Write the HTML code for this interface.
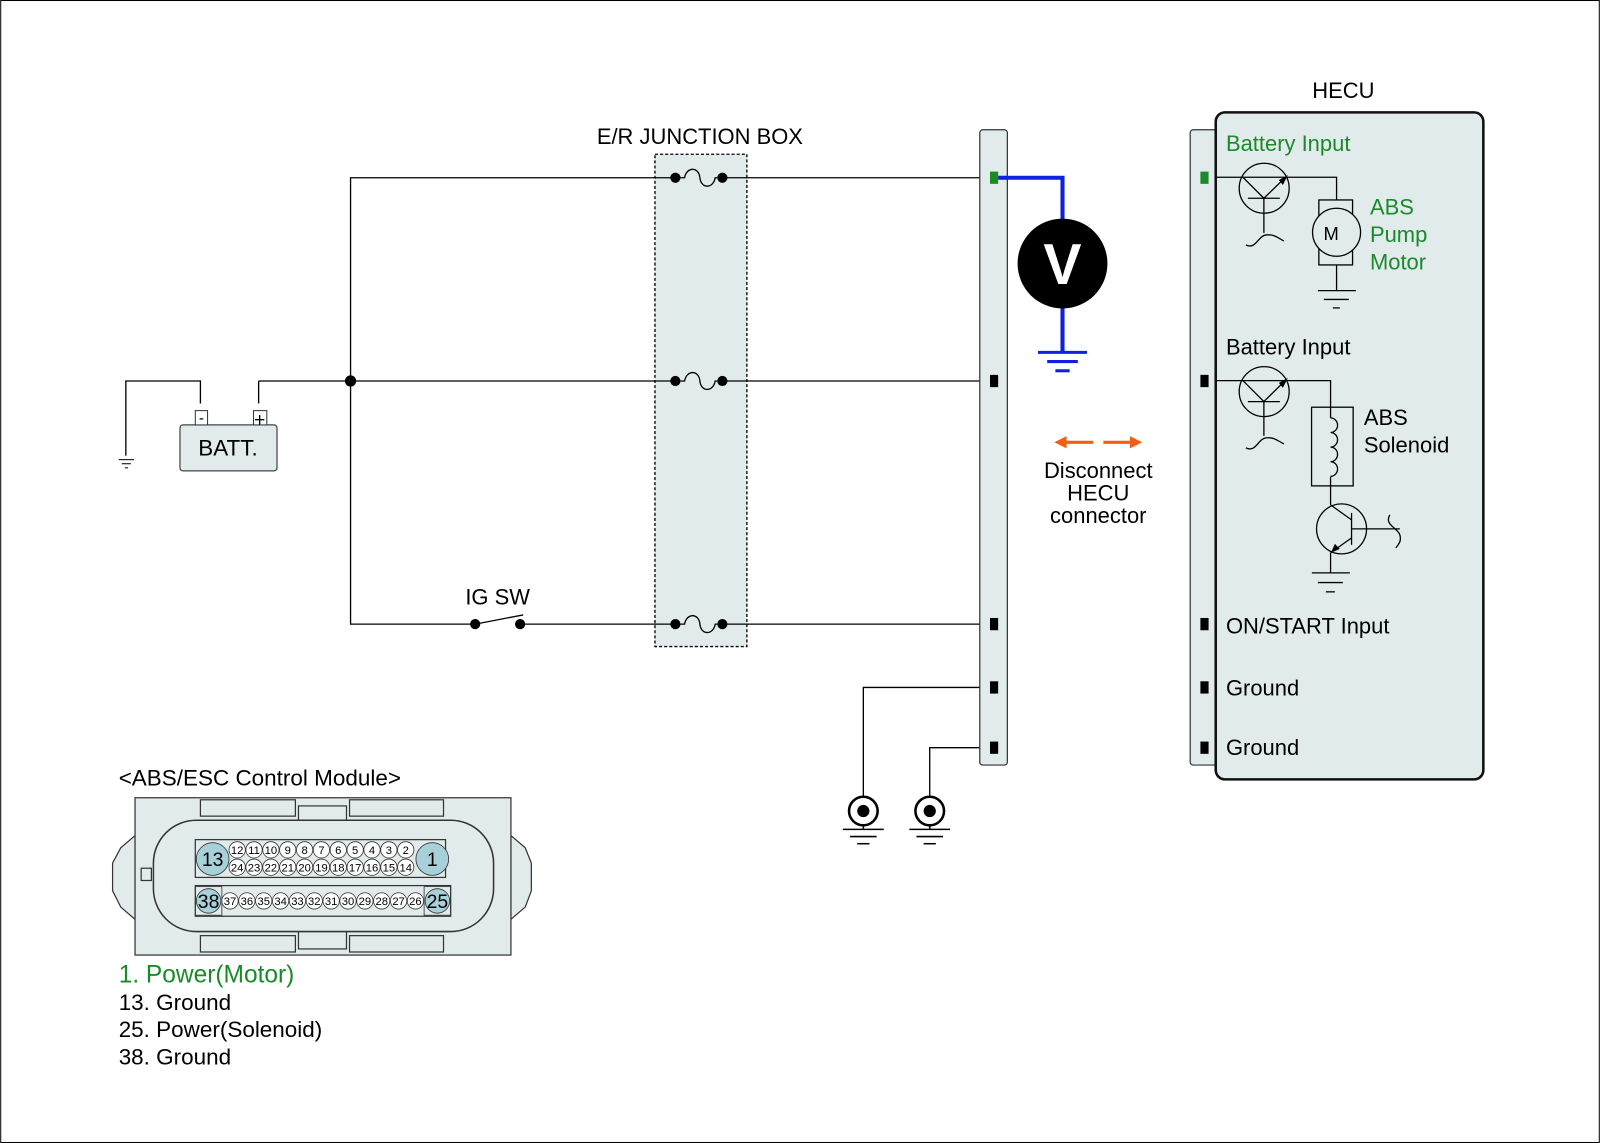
<!DOCTYPE html>
<html><head><meta charset="utf-8"><style>
html,body{margin:0;padding:0;background:#fff}
svg{display:block}
text{font-family:"Liberation Sans",Arial,sans-serif}
</style></head><body>
<svg width="1600" height="1143" viewBox="0 0 1566 1119" xmlns="http://www.w3.org/2000/svg">
<rect x="0.5" y="0.5" width="1565" height="1118" fill="#fff" stroke="#000" stroke-width="1"/>

<!-- junction box -->
<rect x="641" y="151" width="90" height="482" fill="#e2ebeb" stroke="#000" stroke-width="1.3" stroke-dasharray="3,2"/>
<text x="685" y="141" font-size="21.5" text-anchor="middle">E/R JUNCTION BOX</text>

<!-- wires -->
<g stroke="#000" stroke-width="1.3" fill="none">
<polyline points="661,174 343,174 343,611 465,611"/>
<line x1="707" y1="174" x2="972" y2="174"/>
<line x1="253" y1="373" x2="661" y2="373"/>
<line x1="707" y1="373" x2="972" y2="373"/>
<line x1="509" y1="611" x2="661" y2="611"/>
<line x1="707" y1="611" x2="972" y2="611"/>
<polyline points="196,395 196,373 123,373 123,446"/>
<polyline points="253,395 253,373"/>
<polyline points="972,673 845,673 845,780"/>
<polyline points="972,732 910,732 910,780"/>
</g>
<g stroke="#000" stroke-width="1">
<line x1="116" y1="450" x2="131" y2="450"/><line x1="119" y1="454" x2="128" y2="454"/><line x1="122" y1="458" x2="125" y2="458"/>
</g>
<circle cx="343" cy="373" r="5.5" fill="#000"/>

<!-- battery -->
<rect x="176" y="416" width="95" height="45" rx="3" fill="#e2ebeb" stroke="#444" stroke-width="1.2"/>
<rect x="191" y="402" width="12" height="14" fill="#fff" stroke="#333"/>
<rect x="248" y="402" width="13" height="14" fill="#fff" stroke="#333"/>
<text x="197" y="414" font-size="15" text-anchor="middle">-</text>
<text x="254" y="417" font-size="19" text-anchor="middle">+</text>
<text x="223" y="446" font-size="22" text-anchor="middle">BATT.</text>

<!-- IG SW -->
<circle cx="465" cy="611" r="5" fill="#000"/><circle cx="509" cy="611" r="5" fill="#000"/>
<line x1="465" y1="611" x2="512" y2="602" stroke="#000" stroke-width="1.3"/>
<text x="487" y="592" font-size="21.5" text-anchor="middle">IG SW</text>

<g fill="#000"><circle cx="661" cy="174" r="5"/><circle cx="707" cy="174" r="5"/><circle cx="661" cy="373" r="5"/><circle cx="707" cy="373" r="5"/><circle cx="661" cy="611" r="5"/><circle cx="707" cy="611" r="5"/></g>
<g stroke="#000" stroke-width="1.3" fill="none">
<path d="M666,174 L670,174 C672,163 684,163 685,174 C686,185 698,185 700,174 L702,174"/>
<path d="M666,373 L670,373 C672,362 684,362 685,373 C686,384 698,384 700,373 L702,373"/>
<path d="M666,611 L670,611 C672,600 684,600 685,611 C686,622 698,622 700,611 L702,611"/>
</g>

<!-- connector strip -->
<rect x="959" y="127" width="27" height="622" rx="3" fill="#e2ebeb" stroke="#333" stroke-width="1.2"/>
<rect x="969" y="168" width="8" height="12" fill="#1a8a2a"/>
<rect x="969" y="367" width="8" height="12" fill="#000"/>
<rect x="969" y="605" width="8" height="12" fill="#000"/>
<rect x="969" y="667" width="8" height="12" fill="#000"/>
<rect x="969" y="726" width="8" height="12" fill="#000"/>

<!-- voltmeter -->
<g stroke="#1020e0" stroke-width="4" fill="none">
<polyline points="977,174 1040,174 1040,216"/>
<line x1="1040" y1="300" x2="1040" y2="345"/>
<line x1="1016" y1="345" x2="1064" y2="345" stroke-width="3"/>
<line x1="1025" y1="354" x2="1055" y2="354" stroke-width="3"/>
<line x1="1033" y1="363" x2="1047" y2="363" stroke-width="3"/>
</g>
<circle cx="1040" cy="258" r="44" fill="#000"/>
<text x="1040" y="278" font-size="56" font-weight="bold" fill="#fff" text-anchor="middle">V</text>

<!-- orange arrows -->
<g stroke="#f06010" stroke-width="3" fill="#f06010">
<line x1="1040" y1="433" x2="1070" y2="433"/><polygon points="1032,433 1044,427 1044,439" stroke="none"/>
<line x1="1080" y1="433" x2="1108" y2="433"/><polygon points="1118,433 1106,427 1106,439" stroke="none"/>
</g>
<text x="1075" y="468" font-size="21.5" text-anchor="middle">Disconnect</text>
<text x="1075" y="490" font-size="21.5" text-anchor="middle">HECU</text>
<text x="1075" y="512" font-size="21.5" text-anchor="middle">connector</text>

<!-- grounds -->
<g>
<circle cx="845" cy="794" r="14" fill="#fff" stroke="#000" stroke-width="2.5"/><circle cx="845" cy="794" r="6" fill="#000"/>
<circle cx="910" cy="794" r="14" fill="#fff" stroke="#000" stroke-width="2.5"/><circle cx="910" cy="794" r="6" fill="#000"/>
<g stroke="#000" stroke-width="1.5">
<line x1="845" y1="808" x2="845" y2="812"/><line x1="825" y1="812" x2="865" y2="812"/><line x1="832" y1="819" x2="858" y2="819"/><line x1="839" y1="826" x2="851" y2="826"/>
<line x1="910" y1="808" x2="910" y2="812"/><line x1="890" y1="812" x2="930" y2="812"/><line x1="897" y1="819" x2="923" y2="819"/><line x1="904" y1="826" x2="916" y2="826"/>
</g></g>

<!-- HECU -->
<text x="1315" y="96" font-size="21.5" text-anchor="middle">HECU</text>
<rect x="1165" y="127" width="30" height="622" rx="3" fill="#e2ebeb" stroke="#333" stroke-width="1.2"/>
<rect x="1190" y="110" width="262" height="653" rx="9" fill="#e2ebeb" stroke="#111" stroke-width="2.5"/>
<rect x="1175" y="168" width="8" height="12" fill="#1a8a2a"/>
<rect x="1175" y="367" width="8" height="12" fill="#000"/>
<rect x="1175" y="605" width="8" height="12" fill="#000"/>
<rect x="1175" y="667" width="8" height="12" fill="#000"/>
<rect x="1175" y="726" width="8" height="12" fill="#000"/>
<text x="1200" y="148" font-size="21.5" fill="#1a8a2a">Battery Input</text>
<text x="1200" y="347" font-size="21.5">Battery Input</text>
<text x="1200" y="620" font-size="21.5">ON/START Input</text>
<text x="1200" y="681" font-size="21.5">Ground</text>
<text x="1200" y="739" font-size="21.5">Ground</text>

<g transform="scale(0.97875)" stroke="#000" stroke-width="1.3" fill="none">
<polyline points="1216,177.3 1336.7,177.3 1336.7,200"/>
<circle cx="1264.3" cy="188.3" r="25"/>
<line x1="1243" y1="177.3" x2="1264" y2="198.3"/>
<line x1="1248" y1="198.3" x2="1280" y2="198.3"/>
<line x1="1264" y1="198.3" x2="1264" y2="233"/>
<line x1="1264" y1="198.3" x2="1285" y2="178"/>
<path d="M1246,245 C1256,250 1258,236 1266,235 C1274,234 1278,238 1284,241"/>
<rect x="1319" y="200" width="33.7" height="65"/>
<circle cx="1336.7" cy="232.3" r="24" fill="#e2ebeb"/>
<polyline points="1336.7,265 1336.7,290.7"/>
<line x1="1318" y1="290.7" x2="1356" y2="290.7"/><line x1="1324" y1="299.5" x2="1349" y2="299.5"/><line x1="1333" y1="308" x2="1340" y2="308"/>
<polyline points="1216,380.7 1330.7,380.7 1330.7,418"/>
<circle cx="1264.3" cy="391.7" r="25"/>
<line x1="1243" y1="380.7" x2="1264" y2="401.7"/>
<line x1="1248" y1="401.7" x2="1280" y2="401.7"/>
<line x1="1264" y1="401.7" x2="1264" y2="436"/>
<line x1="1264" y1="401.7" x2="1285" y2="381"/>
<path d="M1246,448 C1256,453 1258,439 1266,438 C1274,437 1278,441 1284,444"/>
<rect x="1311.7" y="407.3" width="41.6" height="78.7"/>
<path d="M1330.7,418 a7,7.3 0 0 1 0,14.6 a7,7.3 0 0 1 0,14.6 a7,7.3 0 0 1 0,14.6 a7,7.3 0 0 1 0,14.6"/>
<line x1="1330.7" y1="476.7" x2="1330.7" y2="505"/>
<circle cx="1341.7" cy="529" r="25"/>
<line x1="1351.7" y1="513" x2="1351.7" y2="545"/>
<line x1="1351.7" y1="529" x2="1400" y2="529"/>
<line x1="1330.7" y1="505" x2="1351.7" y2="520"/>
<line x1="1351.7" y1="538" x2="1330.7" y2="553"/>
<path d="M1390,515 C1384,525 1398,528 1400,535 C1402,542 1398,545 1396,548"/>
<polyline points="1330.7,553 1330.7,573"/>
<line x1="1312" y1="573" x2="1350" y2="573"/><line x1="1318" y1="582.7" x2="1343" y2="582.7"/><line x1="1326" y1="592" x2="1335" y2="592"/>
</g>
<g transform="scale(0.97875)" fill="#000">
<polygon points="1288,175 1279,180 1283,185"/>
<polygon points="1288,378 1279,383 1283,388"/>
<polygon points="1331,553 1335,544 1340,549"/>
</g>
<text x="1341" y="210" font-size="21.5" fill="#1a8a2a">ABS</text>
<text x="1341" y="237" font-size="21.5" fill="#1a8a2a">Pump</text>
<text x="1341" y="264" font-size="21.5" fill="#1a8a2a">Motor</text>
<text x="1303" y="235" font-size="18" text-anchor="middle">M</text>
<text x="1335" y="416" font-size="21.5">ABS</text>
<text x="1335" y="443" font-size="21.5">Solenoid</text>

<!-- ABS/ESC module -->
<text x="116" y="769" font-size="22">&lt;ABS/ESC Control Module&gt;</text>
<g stroke="#333" stroke-width="1.2" fill="#e2ebeb">
<path d="M132,818 L118,830 L110,845 L110,872 L118,888 L132,900 Z"/>
<path d="M500,818 L514,830 L520,845 L520,872 L514,888 L500,900 Z"/>
<rect x="132" y="781" width="368" height="154"/>
<rect x="196" y="783" width="93" height="16"/>
<rect x="342" y="783" width="92" height="16"/>
<rect x="196" y="916" width="93" height="16"/>
<rect x="342" y="916" width="92" height="16"/>
<rect x="292" y="789" width="47" height="16"/>
<rect x="292" y="911" width="47" height="18"/>
<rect x="150" y="803" width="333" height="109" rx="42" stroke-width="1.5"/>
<rect x="191" y="822" width="245" height="37"/>
<rect x="191" y="867" width="250" height="30"/>
<rect x="138" y="850" width="10" height="12"/>
</g>
<g stroke="#333" stroke-width="0.8">
<circle cx="208" cy="841" r="16" fill="#a8d0d8"/><circle cx="423" cy="841" r="16" fill="#a8d0d8"/>
<rect x="191" y="868" width="26" height="28" fill="none"/><rect x="415" y="868" width="26" height="28" fill="none"/>
<circle cx="204" cy="882" r="12" fill="#a8d0d8"/><circle cx="428" cy="882" r="12" fill="#a8d0d8"/>
</g>
<g fill="#fff" stroke="#333" stroke-width="0.8">
<circle cx="232" cy="832" r="8"/><circle cx="248.5" cy="832" r="8"/><circle cx="265" cy="832" r="8"/><circle cx="281.5" cy="832" r="8"/><circle cx="298" cy="832" r="8"/><circle cx="314.5" cy="832" r="8"/><circle cx="331" cy="832" r="8"/><circle cx="347.5" cy="832" r="8"/><circle cx="364" cy="832" r="8"/><circle cx="380.5" cy="832" r="8"/><circle cx="397" cy="832" r="8"/>
<circle cx="232" cy="849" r="8"/><circle cx="248.5" cy="849" r="8"/><circle cx="265" cy="849" r="8"/><circle cx="281.5" cy="849" r="8"/><circle cx="298" cy="849" r="8"/><circle cx="314.5" cy="849" r="8"/><circle cx="331" cy="849" r="8"/><circle cx="347.5" cy="849" r="8"/><circle cx="364" cy="849" r="8"/><circle cx="380.5" cy="849" r="8"/><circle cx="397" cy="849" r="8"/>
<circle cx="225" cy="882" r="8"/><circle cx="241.5" cy="882" r="8"/><circle cx="258" cy="882" r="8"/><circle cx="274.5" cy="882" r="8"/><circle cx="291" cy="882" r="8"/><circle cx="307.5" cy="882" r="8"/><circle cx="324" cy="882" r="8"/><circle cx="340.5" cy="882" r="8"/><circle cx="357" cy="882" r="8"/><circle cx="373.5" cy="882" r="8"/><circle cx="390" cy="882" r="8"/><circle cx="406.5" cy="882" r="8"/>
</g>
<g font-size="11" text-anchor="middle">
<text x="232" y="836">12</text><text x="248.5" y="836">11</text><text x="265" y="836">10</text><text x="281.5" y="836">9</text><text x="298" y="836">8</text><text x="314.5" y="836">7</text><text x="331" y="836">6</text><text x="347.5" y="836">5</text><text x="364" y="836">4</text><text x="380.5" y="836">3</text><text x="397" y="836">2</text>
<text x="232" y="853">24</text><text x="248.5" y="853">23</text><text x="265" y="853">22</text><text x="281.5" y="853">21</text><text x="298" y="853">20</text><text x="314.5" y="853">19</text><text x="331" y="853">18</text><text x="347.5" y="853">17</text><text x="364" y="853">16</text><text x="380.5" y="853">15</text><text x="397" y="853">14</text>
<text x="225" y="886">37</text><text x="241.5" y="886">36</text><text x="258" y="886">35</text><text x="274.5" y="886">34</text><text x="291" y="886">33</text><text x="307.5" y="886">32</text><text x="324" y="886">31</text><text x="340.5" y="886">30</text><text x="357" y="886">29</text><text x="373.5" y="886">28</text><text x="390" y="886">27</text><text x="406.5" y="886">26</text>
</g>
<g font-size="19" text-anchor="middle">
<text x="208" y="848">13</text><text x="423" y="848">1</text><text x="204" y="889">38</text><text x="428" y="889">25</text>
</g>
<text x="116" y="962" font-size="24" fill="#1a8a2a">1. Power(Motor)</text>
<text x="116" y="989" font-size="22">13. Ground</text>
<text x="116" y="1015" font-size="22">25. Power(Solenoid)</text>
<text x="116" y="1042" font-size="22">38. Ground</text>
</svg>
</body></html>
